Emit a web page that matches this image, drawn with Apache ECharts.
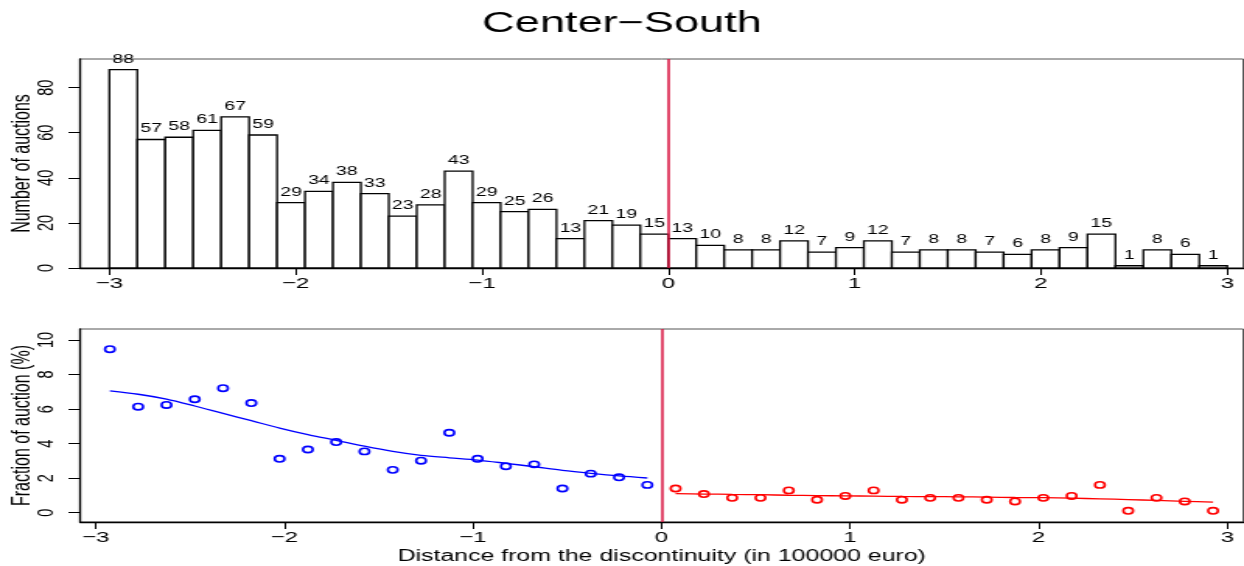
<!DOCTYPE html>
<html>
<head>
<meta charset="utf-8">
<script src="https://cdn.jsdelivr.net/npm/echarts@6/dist/echarts.min.js"></script>
<style>
  html, body { margin: 0; padding: 0; background: #fff; overflow: hidden; }
  #wrap { width: 1244px; height: 566px; overflow: hidden; }
  /* the figure is laid out on an 800px-wide canvas and stretched horizontally */
  #chart { width: 800px; height: 566px; transform: scaleX(1.555); transform-origin: 0 0; }
</style>
</head>
<body>
<div id="wrap"><div id="chart"></div></div>
<script>
// bin centres (width 0.15) on each side of the threshold
const leftCenters  = [-2.925, -2.775, -2.625, -2.475, -2.325, -2.175, -2.025, -1.875, -1.725, -1.575,
                      -1.425, -1.275, -1.125, -0.975, -0.825, -0.675, -0.525, -0.375, -0.225, -0.075];
const rightCenters = [0.075, 0.225, 0.375, 0.525, 0.675, 0.825, 0.975, 1.125, 1.275, 1.425,
                      1.575, 1.725, 1.875, 2.025, 2.175, 2.325, 2.475, 2.625, 2.775, 2.925];

// number of auctions per bin
const leftCounts  = [88, 57, 58, 61, 67, 59, 29, 34, 38, 33, 23, 28, 43, 29, 25, 26, 13, 21, 19, 15];
const rightCounts = [13, 10, 8, 8, 12, 7, 9, 12, 7, 8, 8, 7, 6, 8, 9, 15, 1, 8, 6, 1];

// fraction of auctions per bin (%)
const leftShare  = [9.47, 6.14, 6.24, 6.57, 7.21, 6.35, 3.12, 3.66, 4.09, 3.55,
                    2.48, 3.01, 4.63, 3.12, 2.69, 2.80, 1.40, 2.26, 2.05, 1.61];
const rightShare = [1.40, 1.08, 0.86, 0.86, 1.29, 0.75, 0.97, 1.29, 0.75, 0.86,
                    0.86, 0.75, 0.65, 0.86, 0.97, 1.61, 0.11, 0.86, 0.65, 0.11];

// smoothed fit on each side
const leftFit  = [7.06, 6.86, 6.58, 6.18, 5.75, 5.33, 4.90, 4.52, 4.19, 3.85,
                  3.55, 3.32, 3.18, 3.05, 2.86, 2.66, 2.45, 2.28, 2.13, 2.01];
const rightFit = [1.10, 1.08, 1.06, 1.04, 1.01, 0.99, 0.97, 0.96, 0.94, 0.93,
                  0.92, 0.90, 0.88, 0.87, 0.84, 0.80, 0.76, 0.71, 0.66, 0.61];

const xTicks = [-3, -2, -1, 0, 1, 2, 3];
const countTicks = [0, 20, 40, 60, 80];
const shareTicks = [0, 2, 4, 6, 8, 10];

const BIN_HALF = 0.075;
const FONT = 'Liberation Sans, Arial, Helvetica, sans-serif';
const minus = v => String(v).replace('-', '\u2212');

const zip = (xs, ys) => xs.map((x, i) => [x, ys[i]]);
const histData = zip(leftCenters.concat(rightCenters), leftCounts.concat(rightCounts));

const cutLine = {
  silent: true,
  symbol: 'none',
  label: { show: false },
  lineStyle: { color: '#d8103e', width: 1.5, type: 'solid' },
  data: [{ xAxis: 0 }]
};

function xAxisDef(gridIndex, min, max, withName) {
  const ax = {
    type: 'value', gridIndex, min, max,
    axisLine: { show: true, onZero: false, lineStyle: { color: '#000', width: 1.3 } },
    axisTick: { show: true, length: 7, customValues: xTicks, lineStyle: { color: '#000', width: 1 } },
    axisLabel: { margin: 8, customValues: xTicks, formatter: minus, color: '#000', fontFamily: FONT, fontSize: 15.5 },
    splitLine: { show: false }
  };
  if (withName) {
    ax.name = 'Distance from the discontinuity (in 100000 euro)';
    ax.nameLocation = 'middle';
    ax.nameGap = 27;
    ax.nameTextStyle = { color: '#000', fontFamily: FONT, fontSize: 16 };
  }
  return ax;
}

function yAxisDef(gridIndex, min, max, ticks, name) {
  return {
    type: 'value', gridIndex, min, max,
    name, nameLocation: 'middle', nameGap: 29, nameRotate: 90, nameMoveOverlap: false,
    nameTextStyle: { color: '#000', fontFamily: FONT, fontSize: 16 },
    axisLine: { show: true, onZero: false, lineStyle: { color: '#000', width: 1.3 } },
    axisTick: { show: true, length: 7.5, customValues: ticks, lineStyle: { color: '#000', width: 1 } },
    axisLabel: { margin: 14, rotate: 90, customValues: ticks, color: '#000', fontFamily: FONT, fontSize: 14.5 },
    splitLine: { show: false }
  };
}

const gridBase = {
  left: 51.5, width: 748, show: true, borderColor: '#555', borderWidth: 1,
  containLabel: false, outerBoundsMode: 'none'
};

const chart = echarts.init(document.getElementById('chart'), null, { renderer: 'canvas' });

chart.setOption({
  backgroundColor: '#fff',
  animation: false,
  title: {
    text: 'Center\u2212South',
    left: 'center',
    top: 4,
    textStyle: { color: '#000', fontFamily: FONT, fontSize: 29, fontWeight: 'normal' }
  },
  grid: [
    Object.assign({ top: 59, height: 209 }, gridBase),
    Object.assign({ top: 329, height: 193 }, gridBase)
  ],
  xAxis: [
    xAxisDef(0, -3.157, 3.086, false),
    xAxisDef(1, -3.083, 3.085, true)
  ],
  yAxis: [
    yAxisDef(0, 0, 92.7, countTicks, 'Number of auctions'),
    yAxisDef(1, -0.54, 10.64, shareTicks, 'Fraction of auction (%)')
  ],
  series: [
    {
      // histogram of auctions
      type: 'custom',
      xAxisIndex: 0, yAxisIndex: 0,
      data: histData,
      clip: false,
      renderItem(params, api) {
        const c = api.value(0);
        const n = api.value(1);
        const topLeft = api.coord([c - BIN_HALF, n]);
        const botRight = api.coord([c + BIN_HALF, 0]);
        return {
          type: 'group',
          children: [
            {
              type: 'rect',
              shape: {
                x: topLeft[0], y: topLeft[1],
                width: botRight[0] - topLeft[0], height: botRight[1] - topLeft[1]
              },
              style: { fill: '#fff', stroke: '#000', lineWidth: 1.3 }
            },
            {
              type: 'text',
              style: {
                text: String(n),
                x: (topLeft[0] + botRight[0]) / 2,
                y: topLeft[1] - 4,
                align: 'center',
                verticalAlign: 'bottom',
                fontSize: 12.5,
                fontFamily: FONT,
                fill: '#000'
              }
            }
          ]
        };
      },
      markLine: cutLine,
      z: 2
    },
    {
      type: 'line',
      xAxisIndex: 1, yAxisIndex: 1,
      data: zip(leftCenters, leftFit),
      smooth: 0.3,
      showSymbol: false,
      lineStyle: { color: '#0000ff', width: 1.3 },
      z: 3
    },
    {
      type: 'line',
      xAxisIndex: 1, yAxisIndex: 1,
      data: zip(rightCenters, rightFit),
      smooth: 0.3,
      showSymbol: false,
      lineStyle: { color: '#ff0000', width: 1.3 },
      z: 3
    },
    {
      type: 'scatter',
      xAxisIndex: 1, yAxisIndex: 1,
      data: zip(leftCenters, leftShare),
      symbol: 'circle',
      symbolSize: 6.3,
      itemStyle: { color: 'rgba(0,0,0,0)', borderColor: '#0000ff', borderWidth: 1.6, opacity: 1 },
      z: 4
    },
    {
      type: 'scatter',
      xAxisIndex: 1, yAxisIndex: 1,
      data: zip(rightCenters, rightShare),
      symbol: 'circle',
      symbolSize: 6.3,
      itemStyle: { color: 'rgba(0,0,0,0)', borderColor: '#ff0000', borderWidth: 1.6, opacity: 1 },
      markLine: cutLine,
      z: 4
    }
  ]
});
</script>
</body>
</html>
